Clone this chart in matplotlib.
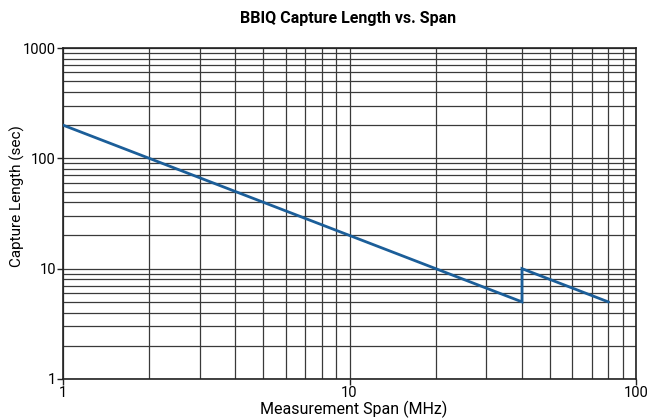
import matplotlib
matplotlib.use("Agg")
import matplotlib.pyplot as plt
from matplotlib.ticker import LogLocator, FixedLocator, NullFormatter

plt.rcParams['font.family'] = ['Roboto', 'DejaVu Sans']

# data
span_mhz = [1, 40, 40, 80]
capture_sec = [200, 5, 10, 5]
x_ticks = [1, 10, 100]
y_ticks = [1, 10, 100, 1000]

W, H = 656, 418
fig = plt.figure(figsize=(W / 100, H / 100), dpi=100)
ax = fig.add_axes([63 / W, 1 - 379 / H, 573 / W, 331 / H])

ax.set_xscale('log')
ax.set_yscale('log')
ax.set_xlim(1, 100)
ax.set_ylim(1, 1000)

ax.plot(span_mhz, capture_sec, color='#1b5e99', lw=2.0, zorder=3,
        solid_joinstyle='miter')

ax.xaxis.set_major_locator(FixedLocator(x_ticks))
ax.yaxis.set_major_locator(FixedLocator(y_ticks))
ax.set_xticklabels([str(v) for v in x_ticks])
ax.set_yticklabels([str(v) for v in y_ticks])
ax.xaxis.set_minor_locator(LogLocator(base=10, subs=range(2, 10)))
ax.yaxis.set_minor_locator(LogLocator(base=10, subs=range(2, 10)))
ax.xaxis.set_minor_formatter(NullFormatter())
ax.yaxis.set_minor_formatter(NullFormatter())

ax.grid(which='both', color='#3a3a3a', lw=0.9)
ax.tick_params(which='minor', length=0)
ax.tick_params(which='major', length=4, width=1, labelsize=10.5, pad=1,
               color='#222222')

for s in ax.spines.values():
    s.set_color('#222222')
    s.set_linewidth(1.2)

# title / labels placed by pixel position
fig.text(348 / W, 1 - 19 / H, 'BBIQ Capture Length vs. Span', fontsize=11.5,
         fontweight='bold', ha='center', va='center')
fig.text(354 / W, 1 - 409 / H, 'Measurement Span (MHz)', fontsize=11.5,
         ha='center', va='center')
fig.text(17 / W, 1 - 196 / H, 'Capture Length (sec)', fontsize=11,
         rotation=90, ha='center', va='center')

fig.savefig('out.png', dpi=100)
